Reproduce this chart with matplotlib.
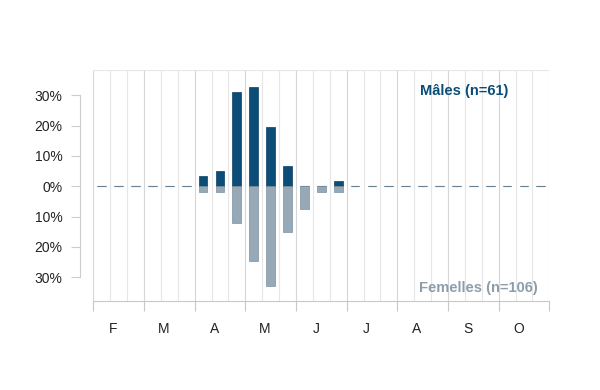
import numpy as np
import matplotlib
matplotlib.use('Agg')
import matplotlib.pyplot as plt

plt.rcParams['font.family'] = ['Liberation Sans', 'DejaVu Sans']

# decades (10-day periods) from February to October
months = ['F', 'M', 'A', 'M', 'J', 'J', 'A', 'S', 'O']
n_decades = 27
# counts per decade, starting at index 6 (April, 1st decade)
first_decade = 6
males = [2, 3, 19, 20, 12, 4, 0, 0, 1]
females = [2, 2, 13, 26, 35, 16, 8, 2, 2]
n_males = 61
n_females = 106

male_pct = np.zeros(n_decades)
female_pct = np.zeros(n_decades)
male_pct[first_decade:first_decade + len(males)] = np.array(males) / n_males * 100
female_pct[first_decade:first_decade + len(females)] = np.array(females) / n_females * 100

centers = np.arange(n_decades) + 0.5
width = 0.52

fig = plt.figure(figsize=(6, 3.9), dpi=100)
ax = fig.add_axes([0.1555, 0.2272, 0.76, 0.5933])

# grid
for x in range(n_decades + 1):
    c = '#d6d6d6' if x % 3 == 0 else '#e6e6e6'
    ax.axvline(x, color=c, lw=0.8, zorder=0)
ax.axhline(38.3, color='#e6e6e6', lw=0.8, zorder=0)

# zero dashes
ax.hlines(np.zeros(n_decades), centers - width / 2, centers + width / 2,
          color='#a8a8a8', lw=0.9, zorder=1)

ax.bar(centers, male_pct, width=width, color='#0c4d78', edgecolor='#0a3f62', lw=0.5, zorder=2)
ax.bar(centers, -female_pct, width=width, color='#97a9b7', edgecolor='#7d909e', lw=0.5, zorder=2)

ax.set_xlim(0, n_decades)
ax.set_ylim(-37.95, 38.3)

for s in ['top', 'right']:
    ax.spines[s].set_visible(False)
ax.spines['bottom'].set_color('#c8c8c8')
ax.spines['bottom'].set_linewidth(0.8)
ax.spines['left'].set_position(('outward', 9.4))
ax.spines['left'].set_bounds(-30, 30)
ax.spines['left'].set_color('#cccccc')
ax.spines['left'].set_linewidth(0.8)

ax.set_xticks(np.arange(0, n_decades + 1, 3))
ax.set_xticklabels([])
ax.set_xticks(np.arange(len(months)) * 3 + 1.17, minor=True)
ax.set_xticklabels(months, minor=True)
ax.tick_params(axis='x', which='major', length=7.2, color='#c8c8c8', width=0.8)
ax.tick_params(axis='x', which='minor', length=0, pad=15, labelsize=10, labelcolor='#222222')

yt = [-30, -20, -10, 0, 10, 20, 30]
ax.set_yticks(yt)
ax.set_yticklabels(['%d%%' % abs(v) for v in yt])
ax.tick_params(axis='y', length=6.3, width=0.8, color='#cccccc', pad=6.5,
               labelsize=10, labelcolor='#222222')

ax.text(24.55, 31.5, 'Mâles (n=61)', color='#0c4d78', fontweight='bold', fontsize=10.5,
        ha='right', va='center')
ax.text(26.3, -33.5, 'Femelles (n=106)', color='#8d9eab', fontweight='bold', fontsize=10.5,
        ha='right', va='center')

fig.savefig('out.png', dpi=100)
